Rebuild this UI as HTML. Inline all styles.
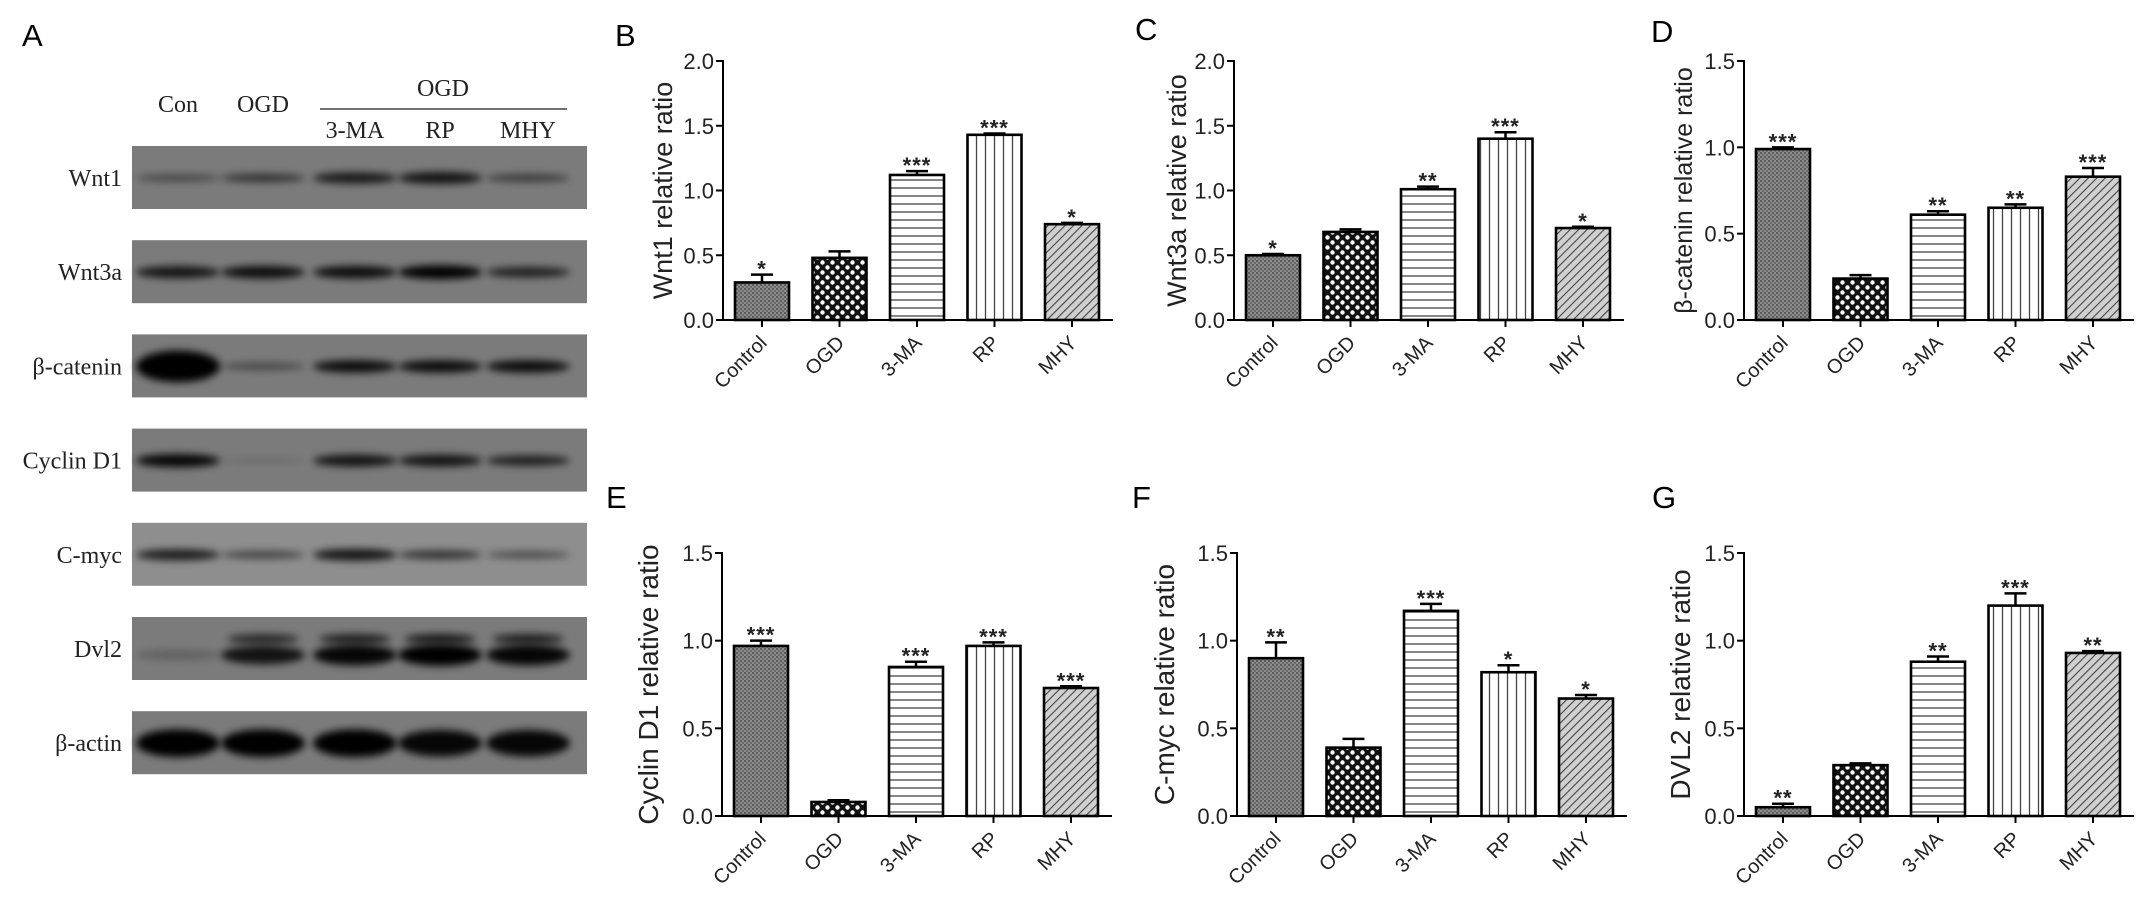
<!DOCTYPE html>
<html><head><meta charset="utf-8">
<style>
html,body{margin:0;padding:0;background:#fff;}
svg{display:block;}
text{font-family:"Liberation Sans",Arial,sans-serif;}
.serif{font-family:"Liberation Serif","Times New Roman",serif;}
</style></head>
<body>
<svg id="fig" width="2150" height="913" viewBox="0 0 2150 913" xmlns="http://www.w3.org/2000/svg">
<defs>
  <pattern id="pCtrl" width="4" height="4" patternUnits="userSpaceOnUse">
    <rect width="4" height="4" fill="#8c8c8c"/><rect width="2" height="2" fill="#5a5a5a"/><rect x="2" y="2" width="2" height="2" fill="#6a6a6a"/>
  </pattern>
  <pattern id="pOgd" width="10" height="10" patternUnits="userSpaceOnUse">
    <rect width="10" height="10" fill="#111"/><circle cx="2.5" cy="2.5" r="2.2" fill="#fff"/><circle cx="7.5" cy="7.5" r="2.2" fill="#fff"/>
  </pattern>
  <pattern id="pH" width="8" height="8" patternUnits="userSpaceOnUse">
    <rect width="8" height="8" fill="#fff"/><line x1="0" y1="4" x2="8" y2="4" stroke="#444" stroke-width="1.3"/>
  </pattern>
  <pattern id="pV" width="9" height="9" patternUnits="userSpaceOnUse">
    <rect width="9" height="9" fill="#fff"/><line x1="4.5" y1="0" x2="4.5" y2="9" stroke="#444" stroke-width="1.3"/>
  </pattern>
  <pattern id="pD" width="6" height="6" patternUnits="userSpaceOnUse" patternTransform="rotate(45)">
    <rect width="6" height="6" fill="#d0d0d0"/><line x1="0" y1="0" x2="0" y2="6" stroke="#444" stroke-width="2.2"/>
  </pattern>
  <filter id="blur" x="-30%" y="-100%" width="160%" height="300%"><feGaussianBlur stdDeviation="4"/></filter>
</defs>
<g id="blot"></g>
<g id="charts"></g>
</svg>
<script>
const NS="http://www.w3.org/2000/svg";
const categories=["Control","OGD","3-MA","RP","MHY"];
const fills=["url(#pCtrl)","url(#pOgd)","url(#pH)","url(#pV)","url(#pD)"];
// B Wnt1
const valuesB=[0.29,0.48,1.12,1.43,0.74];
const errB=[0.06,0.05,0.03,0.01,0.01];
const starsB=["*","","***","***","*"];
// C Wnt3a
const valuesC=[0.50,0.68,1.01,1.40,0.71];
const errC=[0.01,0.02,0.02,0.05,0.01];
const starsC=["*","","**","***","*"];
// D beta-catenin
const valuesD=[0.99,0.24,0.61,0.65,0.83];
const errD=[0.01,0.02,0.02,0.02,0.05];
const starsD=["***","","**","**","***"];
// E Cyclin D1
const valuesE=[0.97,0.08,0.85,0.97,0.73];
const errE=[0.03,0.01,0.03,0.02,0.01];
const starsE=["***","","***","***","***"];
// F C-myc
const valuesF=[0.90,0.39,1.17,0.82,0.67];
const errF=[0.09,0.05,0.04,0.04,0.02];
const starsF=["**","","***","*","*"];
// G DVL2
const valuesG=[0.05,0.29,0.88,1.20,0.93];
const errG=[0.02,0.01,0.03,0.07,0.01];
const starsG=["**","","**","***","**"];
const ticks2=["0.0","0.5","1.0","1.5","2.0"];
const ticks15=["0.0","0.5","1.0","1.5"];

function el(tag,attrs,parent,txt){const e=document.createElementNS(NS,tag);for(const k in attrs)e.setAttribute(k,attrs[k]);if(txt!==undefined)e.textContent=txt;parent.appendChild(e);return e;}

function chart(c){
  const root=document.getElementById('charts');
  const g=el('g',{},root);
  
  
  const maxV=parseFloat(c.ticks[c.ticks.length-1]);
  const y=v=>c.y0-(v/maxV)*(c.y0-c.yTop);
  const cx=i=>c.ax+39+i*77.5;
  const L=el('text',{x:c.lx,y:c.ly,'font-size':31},g,c.letter);
  
  
  c.values.forEach((v,i)=>{
    const top=y(v), et=y(v+c.err[i]);
    const eb=el('line',{x1:cx(i),x2:cx(i),y1:top,y2:et,stroke:'#000','stroke-width':2.5},g);
    
    
    el('line',{x1:cx(i)-11,x2:cx(i)+11,y1:et,y2:et,stroke:'#000','stroke-width':2.5},g);
    const b=el('rect',{x:cx(i)-27,y:top,width:54,height:c.y0-top,fill:fills[i],stroke:'#000','stroke-width':2.6},g);
    
    
    if(c.stars[i]){
      const s=el('text',{x:cx(i),y:et+2,'font-size':22,'font-weight':'bold','text-anchor':'middle',fill:'#222','letter-spacing':'1'},g,c.stars[i]);
      
      
    }
    el('line',{x1:cx(i),x2:cx(i),y1:c.y0,y2:c.y0+7,stroke:'#000','stroke-width':2},g);
    const t=el('text',{x:cx(i)+6,y:c.y0+24,'font-size':20,'text-anchor':'end',fill:'#222',transform:`rotate(-45 ${cx(i)+6} ${c.y0+24})`},g,categories[i]);
    
    
  });
  const ya=el('line',{x1:c.ax,x2:c.ax,y1:c.yTop-1,y2:c.y0,stroke:'#000','stroke-width':2},g);
  
  
  const xa=el('line',{x1:c.ax-1,x2:cx(4)+41,y1:c.y0,y2:c.y0,stroke:'#000','stroke-width':2},g);
  
  
  c.ticks.forEach(tk=>{
    const yy=y(parseFloat(tk));
    el('line',{x1:c.ax-7,x2:c.ax,y1:yy,y2:yy,stroke:'#000','stroke-width':2},g);
    const t=el('text',{x:c.ax-9,y:yy+8,'font-size':22,'text-anchor':'end',fill:'#222'},g,tk);
    
    
  });
  const my=(c.y0+c.yTop)/2;
  const tt=el('text',{x:c.tx,y:my,'font-size':c.tfs,'text-anchor':'middle',fill:'#222',transform:`rotate(-90 ${c.tx} ${my})`},g,c.title);
  
  
}
const T={y0:320,yTop:61}, Bt={y0:816,yTop:553};
chart({name:'chart-b-wnt1',letter:'B',lx:615,ly:46,ax:723,...T,ticks:ticks2,values:valuesB,err:errB,stars:starsB,title:'Wnt1 relative ratio',tx:672,tfs:27});
chart({name:'chart-c-wnt3a',letter:'C',lx:1135,ly:40,ax:1234,...T,ticks:ticks2,values:valuesC,err:errC,stars:starsC,title:'Wnt3a relative ratio',tx:1186,tfs:27});
chart({name:'chart-d-beta-catenin',letter:'D',lx:1651,ly:42,ax:1744,...T,ticks:ticks15,values:valuesD,err:errD,stars:starsD,title:'β-catenin relative ratio',tx:1692,tfs:25});
chart({name:'chart-e-cyclin-d1',letter:'E',lx:606,ly:508,ax:722,...Bt,ticks:ticks15,values:valuesE,err:errE,stars:starsE,title:'Cyclin D1 relative ratio',tx:658,tfs:28});
chart({name:'chart-f-c-myc',letter:'F',lx:1132,ly:508,ax:1237,...Bt,ticks:ticks15,values:valuesF,err:errF,stars:starsF,title:'C-myc relative ratio',tx:1174,tfs:28});
chart({name:'chart-g-dvl2',letter:'G',lx:1652,ly:508,ax:1744,...Bt,ticks:ticks15,values:valuesG,err:errG,stars:starsG,title:'DVL2 relative ratio',tx:1690,tfs:28});

// Western blot
const blotRows=["Wnt1","Wnt3a","β-catenin","Cyclin D1","C-myc","Dvl2","β-actin"];
const laneX=[178,263,355,440,528];
const bandI=[[0.45,0.6,0.8,0.85,0.55],[0.85,0.9,0.9,1,0.75],[1,0.45,0.9,0.9,0.9],[0.95,0.1,0.85,0.85,0.75],[0.8,0.55,0.85,0.65,0.5],[0.2,0.85,0.95,1,0.95],[1,1,1,0.95,0.95]];
(function(){
  const g=document.getElementById('blot');
  const A=el('text',{x:22,y:46,'font-size':31},g,'A');
  
  
  const hdr=[["Con",178,112],["OGD",263,112],["3-MA",355,138],["RP",440,138],["MHY",528,138],["OGD",443,96]];
  hdr.forEach(h=>{
    const t=el('text',{x:h[1],y:h[2],'font-size':24,'text-anchor':'middle',class:'serif',fill:'#222'},g,h[0]);
    
    
  });
  el('line',{x1:320,x2:567,y1:109,y2:109,stroke:'#444','stroke-width':1.5},g);
  blotRows.forEach((r,ri)=>{
    const top=146+ri*94.2;
    const box=el('rect',{x:132,y:top,width:455,height:63,fill:ri===4?'#8e8e8e':'#7b7b7b'},g);
    
    
    const lb=el('text',{x:122,y:top+40,'font-size':24,'text-anchor':'end',class:'serif',fill:'#222'},g,r);
    
    
    bandI[ri].forEach((v,li)=>{
      const ry=ri===6?14:(ri===2&&li===0?16:(ri===5?11:7));
      const cy=top+(ri===5?38:32);
      const e=el('ellipse',{cx:laneX[li],cy:cy,rx:42,ry:ry*Math.max(0.5,v),fill:'#000','fill-opacity':v,filter:'url(#blur)'},g);
      
      
      if(ri===5&&li>0){
        const e2=el('ellipse',{cx:laneX[li],cy:top+22,rx:36,ry:5,fill:'#000','fill-opacity':v*0.8,filter:'url(#blur)'},g);
        
        
      }
    });
  });
})();
</script>
</body></html>
